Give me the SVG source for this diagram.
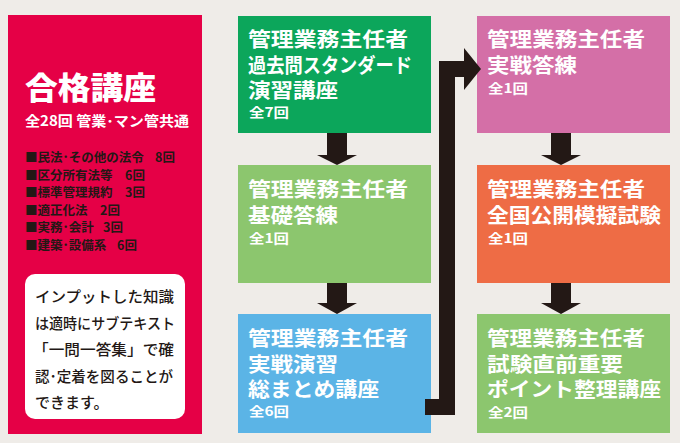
<svg xmlns="http://www.w3.org/2000/svg" width="680" height="443" viewBox="0 0 680 443">
<style>
text{font-family:"Noto Sans CJK JP","Noto Sans CJK SC",sans-serif}
.h{font-size:20px;font-weight:700;fill:#fff}
.s{font-size:13px;font-weight:700;fill:#fff}
.li{font-size:12.5px;font-weight:700;fill:#231815}
.nt{font-size:15px;font-weight:500;fill:#231815}
.ar{fill:#231815}
</style>
<rect width="680" height="443" fill="#EFECE8"/>
<g id="panel">
<rect x="8" y="15" width="194" height="419" fill="#E50046"/>
<text x="25" y="99" font-size="31" font-weight="900" fill="#fff" textLength="131" lengthAdjust="spacingAndGlyphs">合格講座</text>
<text x="25" y="126" font-size="14" font-weight="700" fill="#fff" textLength="164" lengthAdjust="spacingAndGlyphs">全28回 管業･マン管共通</text>
<text class="li" x="25" y="162">■民法･その他の法令<tspan x="155">8回</tspan></text>
<text class="li" x="25" y="179.5">■区分所有法等<tspan x="125">6回</tspan></text>
<text class="li" x="25" y="197">■標準管理規約<tspan x="125">3回</tspan></text>
<text class="li" x="25" y="214.5">■適正化法<tspan x="100">2回</tspan></text>
<text class="li" x="25" y="232">■実務･会計<tspan x="103">3回</tspan></text>
<text class="li" x="25" y="249.5">■建築･設備系<tspan x="117">6回</tspan></text>
<rect x="25" y="274" width="160" height="145" rx="10" fill="#fff"/>
<text class="nt" x="35" y="302" textLength="139" lengthAdjust="spacingAndGlyphs">インプットした知識</text>
<text class="nt" x="35" y="328.5" textLength="140" lengthAdjust="spacingAndGlyphs">は適時にサブテキスト</text>
<text class="nt" x="33" y="355" textLength="141" lengthAdjust="spacingAndGlyphs">「一問一答集」で確</text>
<text class="nt" x="35" y="381.5" textLength="138" lengthAdjust="spacingAndGlyphs">認･定着を図ることが</text>
<text class="nt" x="35" y="408">できます。</text>
</g>
<g id="n1">
<rect x="238" y="16" width="193" height="117" fill="#0CA65B"/>
<text class="h" x="248" y="47" textLength="160" lengthAdjust="spacingAndGlyphs">管理業務主任者</text>
<text class="h" x="248" y="72.5" textLength="164" lengthAdjust="spacingAndGlyphs">過去問スタンダード</text>
<text class="h" x="248" y="98" textLength="90" lengthAdjust="spacingAndGlyphs">演習講座</text>
<text class="s" x="249" y="117" textLength="40" lengthAdjust="spacingAndGlyphs">全7回</text>
</g>
<g id="n2">
<rect x="238" y="165" width="193" height="118" fill="#8CC66E"/>
<text class="h" x="248" y="197" textLength="160" lengthAdjust="spacingAndGlyphs">管理業務主任者</text>
<text class="h" x="248" y="222.5" textLength="90" lengthAdjust="spacingAndGlyphs">基礎答練</text>
<text class="s" x="249" y="243" textLength="40" lengthAdjust="spacingAndGlyphs">全1回</text>
</g>
<g id="n3">
<rect x="238" y="314" width="193" height="119" fill="#5BB4E6"/>
<text class="h" x="248" y="346" textLength="160" lengthAdjust="spacingAndGlyphs">管理業務主任者</text>
<text class="h" x="248" y="371.5" textLength="90" lengthAdjust="spacingAndGlyphs">実戦演習</text>
<text class="h" x="248" y="397" textLength="131" lengthAdjust="spacingAndGlyphs">総まとめ講座</text>
<text class="s" x="249" y="416" textLength="40" lengthAdjust="spacingAndGlyphs">全6回</text>
</g>
<g id="n4">
<rect x="477" y="16" width="193" height="117" fill="#D46FA7"/>
<text class="h" x="487" y="47" textLength="158" lengthAdjust="spacingAndGlyphs">管理業務主任者</text>
<text class="h" x="487" y="72.5" textLength="90" lengthAdjust="spacingAndGlyphs">実戦答練</text>
<text class="s" x="488" y="93" textLength="40" lengthAdjust="spacingAndGlyphs">全1回</text>
</g>
<g id="n5">
<rect x="477" y="165" width="193" height="118" fill="#EE6C45"/>
<text class="h" x="487" y="197" textLength="158" lengthAdjust="spacingAndGlyphs">管理業務主任者</text>
<text class="h" x="487" y="222.5" textLength="174" lengthAdjust="spacingAndGlyphs">全国公開模擬試験</text>
<text class="s" x="488" y="243" textLength="40" lengthAdjust="spacingAndGlyphs">全1回</text>
</g>
<g id="n6">
<rect x="477" y="314" width="193" height="119" fill="#8CC66E"/>
<text class="h" x="487" y="346" textLength="158" lengthAdjust="spacingAndGlyphs">管理業務主任者</text>
<text class="h" x="487" y="371.5" textLength="136" lengthAdjust="spacingAndGlyphs">試験直前重要</text>
<text class="h" x="487" y="397" textLength="174" lengthAdjust="spacingAndGlyphs">ポイント整理講座</text>
<text class="s" x="488" y="417" textLength="40" lengthAdjust="spacingAndGlyphs">全2回</text>
</g>
<g id="connectors">
<polygon class="ar" points="327,133 347,133 347,155 357,155 337,165 317,155 327,155"/>
<polygon class="ar" points="327,283 347,283 347,303 357,303 337,314 317,303 327,303"/>
<polygon class="ar" points="551,133 571,133 571,155 581,155 561,165 541,155 551,155"/>
<polygon class="ar" points="551,283 571,283 571,303 581,303 561,314 541,303 551,303"/>
<path d="M425,407 H447 V69 H466" fill="none" stroke="#231815" stroke-width="16" stroke-linejoin="miter"/>
<polygon class="ar" points="464,48 481,69 464,90"/>
</g>
</svg>
